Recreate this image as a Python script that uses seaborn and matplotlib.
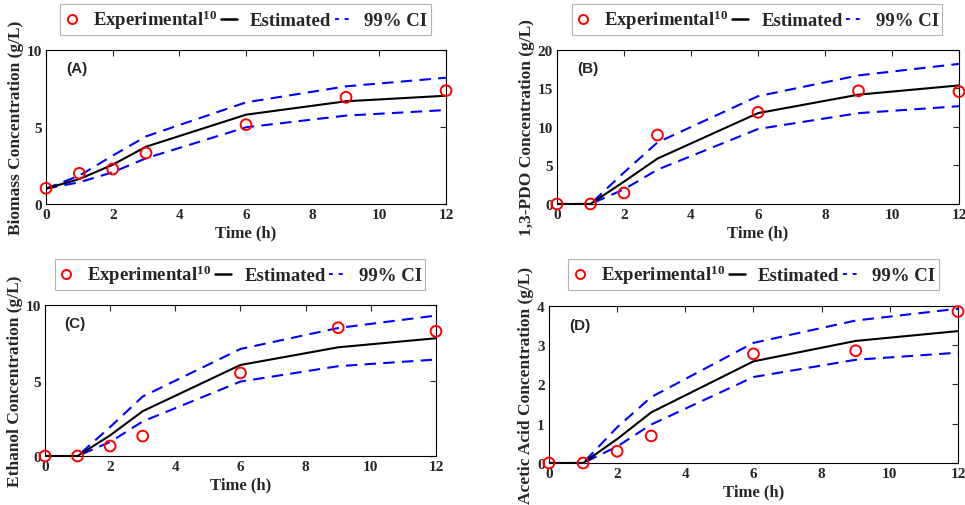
import numpy as np
import pandas as pd
import matplotlib
matplotlib.use("Agg")
import matplotlib.pyplot as plt
import seaborn as sns
from matplotlib.lines import Line2D

time_h = [0, 1, 2, 3, 6, 9, 12]

# (A) biomass
biomass_exp = [1.02, 1.99, 2.27, 3.31, 5.15, 6.93, 7.36]
biomass_est = [1.0, 1.62, 2.55, 3.72, 5.8, 6.67, 7.03]
biomass_up = [1.0, 1.84, 3.14, 4.39, 6.6, 7.64, 8.2]
biomass_lo = [1.0, 1.41, 2.06, 2.97, 4.98, 5.74, 6.1]

# (B) 1,3-PDO
pdo_exp = [0.0, 0.0, 1.43, 8.96, 11.9, 14.7, 14.6]
pdo_est = [0.0, 0.0, 2.9, 5.9, 11.8, 14.2, 15.4]
pdo_up = [0.0, 0.0, 4.1, 8.0, 14.0, 16.7, 18.2]
pdo_lo = [0.0, 0.0, 1.9, 4.46, 9.74, 11.8, 12.7]

# (C) ethanol
eth_exp = [0.0, 0.0, 0.66, 1.32, 5.5, 8.5, 8.26]
eth_est = [0.0, 0.0, 1.37, 2.97, 6.03, 7.2, 7.8]
eth_up = [0.0, 0.0, 1.92, 3.94, 7.09, 8.48, 9.3]
eth_lo = [0.0, 0.0, 0.93, 2.29, 4.93, 5.95, 6.39]

# (D) acetic acid
ace_exp = [0.0, 0.0, 0.3, 0.69, 2.78, 2.86, 3.86]
ace_est = [0.0, 0.0, 0.61, 1.29, 2.59, 3.11, 3.36]
ace_up = [0.0, 0.0, 0.91, 1.68, 3.06, 3.63, 3.93]
ace_lo = [0.0, 0.0, 0.42, 0.98, 2.19, 2.63, 2.81]

sns.set_style("white")
plt.rcParams["font.family"] = ["Liberation Serif", "DejaVu Serif"]
plt.rcParams["font.weight"] = "bold"
plt.rcParams["mathtext.fontset"] = "custom"
plt.rcParams["mathtext.rm"] = "Liberation Serif:bold"
plt.rcParams["mathtext.it"] = "Liberation Serif:bold"
plt.rcParams["mathtext.bf"] = "Liberation Serif:bold"

fig = plt.figure(figsize=(9.65, 5.06), dpi=100)

dash = (0, (5.5, 3.5))

panels = [
    # label, ylabel, data, ylim, yticks, axes rect, legend centre
    ("(A)", "Biomass Concentration (g/L)", biomass_exp, biomass_est, biomass_up, biomass_lo,
     10, [0, 5, 10], [0.0477, 0.5949, 0.4145, 0.3043], (0.2544, 0.9595)),
    ("(B)", "1,3-PDO Concentration (g/L)", pdo_exp, pdo_est, pdo_up, pdo_lo,
     20, [0, 5, 10, 15, 20], [0.5772, 0.5949, 0.4166, 0.3043], (0.7845, 0.9595)),
    ("(C)", "Ethanol Concentration (g/L)", eth_exp, eth_est, eth_up, eth_lo,
     10, [0, 5, 10], [0.0466, 0.0968, 0.4052, 0.2984], (0.2487, 0.4555)),
    ("(D)", "Acetic Acid Concentration (g/L)", ace_exp, ace_est, ace_up, ace_lo,
     4, [0, 1, 2, 3, 4], [0.5689, 0.0830, 0.4238, 0.3103], (0.7808, 0.4555)),
]

for label, ylabel, exp, est, up, lo, ymax, yticks, rect, leg_c in panels:
    ax = fig.add_axes(rect)
    df = pd.DataFrame({"t": time_h, "exp": exp, "est": est, "up": up, "lo": lo})
    sns.lineplot(data=df, x="t", y="up", ax=ax, color="blue", lw=1.5, linestyle=dash)
    sns.lineplot(data=df, x="t", y="lo", ax=ax, color="blue", lw=1.5, linestyle=dash)
    sns.lineplot(data=df, x="t", y="est", ax=ax, color="black", lw=1.5)
    sns.scatterplot(data=df, x="t", y="exp", ax=ax, marker="o", s=60,
                    facecolor="none", edgecolor="red", linewidth=1.4,
                    clip_on=False, zorder=5)
    ax.set_xlim(0, 12)
    ax.set_ylim(0, ymax)
    ax.set_xticks([0, 2, 4, 6, 8, 10, 12])
    ax.set_yticks(yticks)
    ax.tick_params(direction="in", top=True, right=True, length=4,
                   labelsize=11, pad=3, width=0.8)
    for t in ax.get_xticklabels() + ax.get_yticklabels():
        t.set_fontweight("bold")
    for sp in ax.spines.values():
        sp.set_visible(True)
        sp.set_color("black")
        sp.set_linewidth(0.8)
    ax.set_xlabel("Time (h)", fontsize=12, fontweight="bold", labelpad=2)
    ax.set_ylabel(ylabel, fontsize=12.5, fontweight="bold", labelpad=2)
    ax.text(0.05, 0.88, label, transform=ax.transAxes, fontsize=11,
            fontweight="bold", family=["Liberation Sans", "DejaVu Sans"],
            va="center", ha="left")

    handles = [
        Line2D([], [], marker="o", ls="none", mfc="none", mec="red", ms=6.5, mew=1.4),
        Line2D([], [], color="black", lw=1.8),
        Line2D([], [], color="blue", lw=1.4, linestyle=(0, (2, 3))),
    ]
    labels = ["Experimental$^{10}$", "Estimated", "99% CI"]
    leg = fig.legend(handles, labels, loc="center", bbox_to_anchor=leg_c,
                     ncol=3, frameon=True, fancybox=False,
                     handlelength=0.85, handletextpad=0.7, columnspacing=0.2,
                     borderpad=0.2, borderaxespad=0, edgecolor="#a0a0a0",
                     prop={"family": "Liberation Serif", "weight": "bold", "size": 13.5})
    leg.get_frame().set_linewidth(0.8)

fig.savefig("out.png", dpi=100)
